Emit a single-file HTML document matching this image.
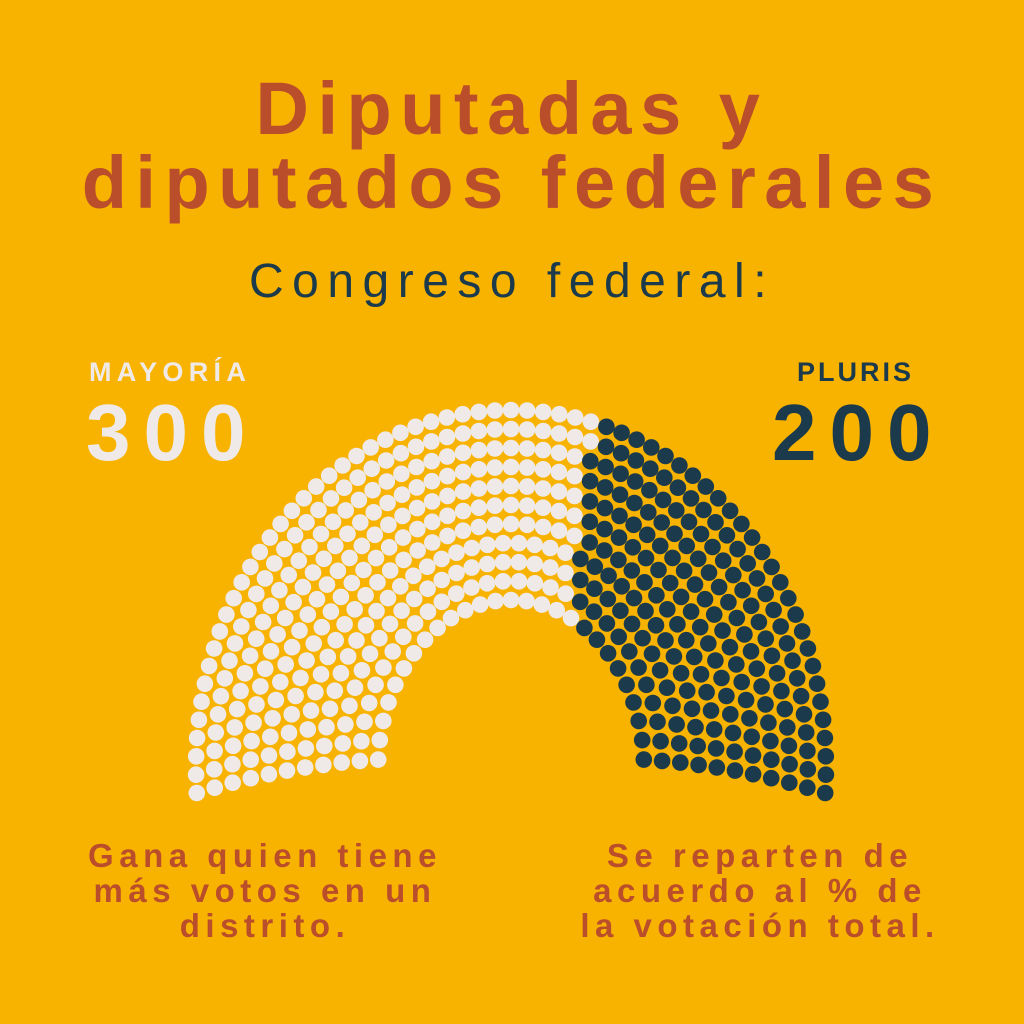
<!DOCTYPE html>
<html><head><meta charset="utf-8"><style>
body{margin:0;width:1024px;height:1024px;background:#f8b200;overflow:hidden;font-family:"Liberation Sans",sans-serif;}
.t{position:absolute;left:0;width:1024px;text-align:center;font-weight:bold;}
</style></head><body>
<div class="t" style="top:72px;font-size:74px;color:#ba4e2b;letter-spacing:8.5px;line-height:74px;">Diputadas y<br>diputados federales</div>
<div class="t" style="top:254px;font-size:48px;color:#1b3a4b;font-weight:normal;letter-spacing:8.5px;">Congreso federal:</div>
<div style="position:absolute;left:89px;top:357px;font-size:27px;font-weight:bold;color:#efeae8;letter-spacing:5.3px;">MAYORÍA</div>
<div style="position:absolute;left:86px;top:387px;font-size:80px;font-weight:bold;color:#efeae8;letter-spacing:13px;">300</div>
<div style="position:absolute;left:797px;top:357px;font-size:27px;font-weight:bold;color:#1b3a4b;letter-spacing:3px;">PLURIS</div>
<div style="position:absolute;left:772px;top:387px;font-size:80px;font-weight:bold;color:#1b3a4b;letter-spacing:13px;">200</div>
<div style="position:absolute;left:60px;width:410px;top:838px;text-align:center;font-size:33px;font-weight:bold;color:#ba4e2b;line-height:35px;letter-spacing:5.5px;">Gana quien tiene<br>más votos en un<br>distrito.</div>
<div style="position:absolute;left:555px;width:410px;top:838px;text-align:center;font-size:33px;font-weight:bold;color:#ba4e2b;line-height:35px;letter-spacing:5.5px;">Se reparten de<br>acuerdo al % de<br>la votación total.</div>
<svg id="s" width="1024" height="1024" style="position:absolute;left:0;top:0"></svg>
<script>
var rows=11,cx=511,cy=768,pts=[];
var lens=[],tot=0;
for(var i=0;i<rows;i++){var f=i/(rows-1);var rx=133+f*182,ry=168+f*190;var a0=0.05-f*0.12;lens.push(Math.PI*(rx+ry)/2*(Math.PI-2*a0)/Math.PI);tot+=lens[lens.length-1];}
var counts=[],s=0;for(i=0;i<rows;i++){counts.push(Math.round(500*lens[i]/tot));s+=counts[i];}
counts[rows-1]+=500-s;
for(i=0;i<rows;i++){var f=i/(rows-1);var rx=133+f*182,ry=168+f*190;var a0=0.05-f*0.12;var n=counts[i];
for(var j=0;j<n;j++){var a=Math.PI-a0-(Math.PI-2*a0)*j/(n-1);var x=cx+rx*Math.cos(a),y=cy-ry*Math.sin(a);pts.push([x-0.1*(cy-y),x,y]);}}
pts.sort(function(p,q){return p[0]-q[0];});
var h='';pts.forEach(function(p,k){h+='<circle cx="'+p[1].toFixed(1)+'" cy="'+p[2].toFixed(1)+'" r="8.3" fill="'+(k<300?'#efeae8':'#1b3a4b')+'"/>';});
document.getElementById('s').innerHTML=h;
</script>
</body></html>
